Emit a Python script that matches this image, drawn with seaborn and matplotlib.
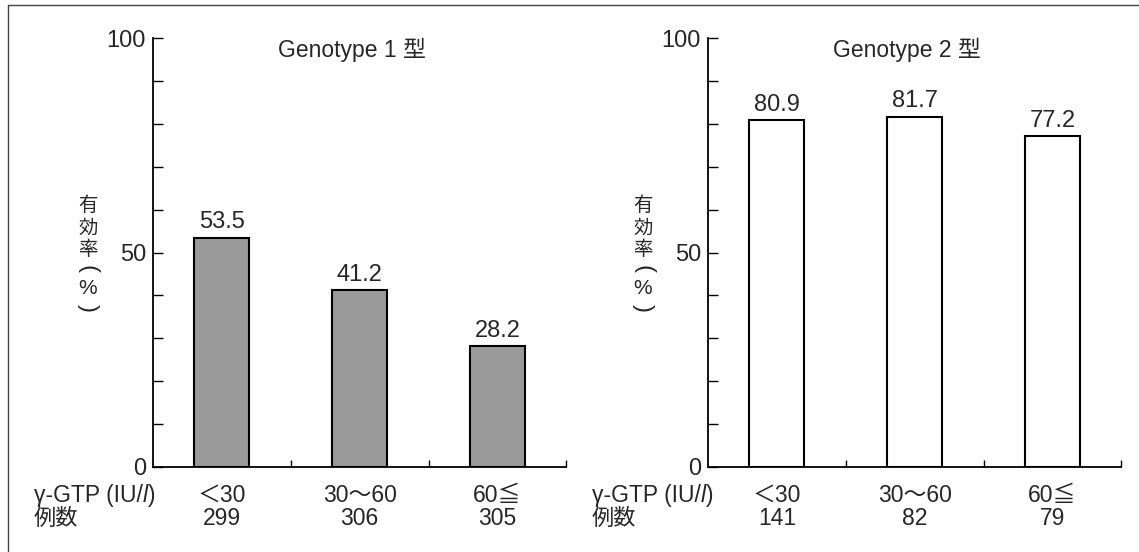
import matplotlib
matplotlib.use("Agg")
import matplotlib.pyplot as plt
import matplotlib.transforms as mtransforms
from matplotlib.lines import Line2D
import seaborn as sns
import pandas as pd

sns.set_theme(style="white")
plt.rcParams["font.family"] = ["Liberation Sans", "Noto Sans CJK JP", "DejaVu Sans"]

# Data
categories = ["＜30", "30～60", "60≦"]
genotype1_rate = [53.5, 41.2, 28.2]
genotype1_n = [299, 306, 305]
genotype2_rate = [80.9, 81.7, 77.2]
genotype2_n = [141, 82, 79]
titles = ["Genotype 1 型", "Genotype 2 型"]
fills = ["#9a9a9a", "white"]

W, H = 1139, 552
fig = plt.figure(figsize=(W / 100, H / 100), dpi=100)
renderer = fig.canvas.get_renderer()

# outer frame lines (top and left)
fig.add_artist(Line2D([0.007, 1.0], [0.991, 0.991], transform=fig.transFigure,
                      color="#444444", lw=1.0))
fig.add_artist(Line2D([0.007, 0.007], [0.0, 0.991], transform=fig.transFigure,
                      color="#444444", lw=1.0))


def chain_text(x, y, parts, fontsize):
    """Write consecutive text pieces left to right, each with its own style."""
    for s, style in parts:
        t = fig.text(x, y, s, ha="left", va="baseline", fontsize=fontsize,
                     style=style)
        bb = t.get_window_extent(renderer=renderer)
        x = bb.x1 / W


def vertical_label(x_px, glyphs):
    """Stack glyphs top to bottom; brackets are turned to lie flat."""
    for g, y_px, rot, size in glyphs:
        fig.text(x_px / W, 1 - y_px / H, g, ha="center", va="center",
                 rotation=rot, fontsize=size)


ylabel_glyphs = [
    ("有", 206, 0, 14), ("効", 229, 0, 14), ("率", 250, 0, 14),
    ("(", 269, -90, 17), ("%", 288, 0, 15), (")", 308, -90, 17),
]

panels = [
    (0.1343, genotype1_rate, genotype1_n, 34, 88),
    (0.6216, genotype2_rate, genotype2_n, 592, 643),
]

row1_y = 1 - 502 / H
row2_y = 1 - 525 / H

for i, (left, rates, counts, lab_px, ylab_px) in enumerate(panels):
    ax = fig.add_axes([left, 0.154, 0.363, 0.777])
    df = pd.DataFrame({"cat": categories, "rate": rates})
    sns.barplot(data=df, x="cat", y="rate", ax=ax, color=fills[i],
                edgecolor="black", linewidth=1.5, width=0.4, saturation=1)
    ax.set_xlim(-0.5, 2.5)
    ax.set_ylim(0, 100)
    ax.set_facecolor("none")
    for s in ["top", "right"]:
        ax.spines[s].set_visible(False)
    for s in ["left", "bottom"]:
        ax.spines[s].set_color("black")
        ax.spines[s].set_linewidth(1.3)

    # y ticks every 10, labels at 0/50/100
    ax.set_yticks(range(0, 101, 10))
    ax.set_yticklabels([str(v) if v % 50 == 0 else "" for v in range(0, 101, 10)],
                       fontsize=17)
    ax.tick_params(axis="y", direction="in", length=7, width=1, color="black",
                   pad=5, left=True)
    # x ticks at category boundaries
    ax.set_xticks([0.5, 1.5, 2.5])
    ax.set_xticklabels([])
    ax.tick_params(axis="x", direction="in", length=5, width=1, color="black",
                   bottom=True)
    ax.set_xlabel("")
    ax.set_ylabel("")

    # value labels
    for j, v in enumerate(rates):
        ax.text(j, v + 1.0, f"{v:.1f}", ha="center", va="bottom", fontsize=17)

    # panel title
    ax.text(0.945, 97.2, titles[i], ha="center", va="center", fontsize=16.5)

    # stacked y label
    vertical_label(ylab_px, ylabel_glyphs)

    # category rows under the axis
    trans = mtransforms.blended_transform_factory(ax.transData, fig.transFigure)
    for j, (c, n) in enumerate(zip(categories, counts)):
        ax.text(j, row1_y, c, transform=trans, ha="center", va="baseline",
                fontsize=16.5)
        ax.text(j, row2_y, str(n), transform=trans, ha="center",
                va="baseline", fontsize=16.5)
    chain_text(lab_px / W, row1_y, [("γ-GTP (IU/", "normal"), ("l", "italic"),
                                    (")", "normal")], 16.5)
    fig.text(lab_px / W, row2_y, "例数", ha="left", va="baseline", fontsize=16)

fig.savefig("out.png", dpi=100)
